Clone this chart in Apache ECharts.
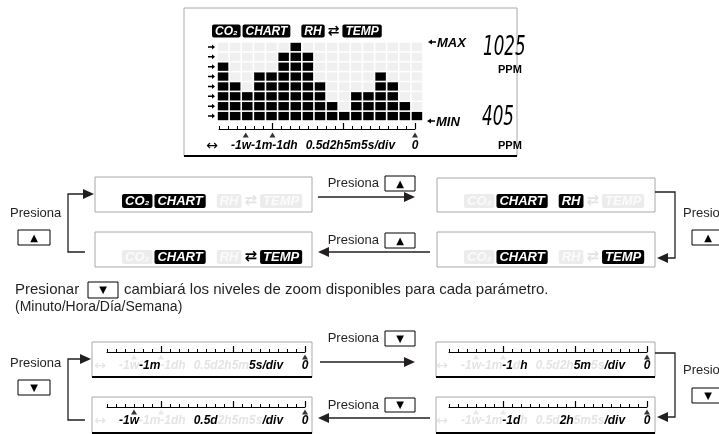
<!DOCTYPE html>
<html><head><meta charset="utf-8">
<script src="https://cdn.jsdelivr.net/npm/echarts@6/dist/echarts.min.js"></script>
<style>html,body{margin:0;padding:0;background:#fff}#c{width:719px;height:434px}</style>
</head><body><div id="c"></div>
<script>
// ---------- data ----------
const barCols = ['c1','c2','c3','c4','c5','c6','c7','c8','c9','c10','c11','c12','c13','c14','c15','c16','c17'];
const barLevels = [6,4,3,5,5,7,8,7,4,2,1,3,3,5,4,2,1];
const gridRows = 8;
const rulerDivisions = 22;
const rulerMajor = [6,14,22];
const rulerMarks = [3,6,22];
const modeLabels = ['CO₂','CHART','RH','⇄','TEMP'];
const modeLcd  = [1,1,1,1,1];
const modeCo2  = [1,1,0,0,0];
const modeRh   = [0,1,1,0,0];
const modeTemp = [0,1,0,0,1];
const modeBoth = [0,1,0,1,1];
const scaleTokens = ['-1w','-1m','-1','d','h','0.5d','2h','5m','5s','/div'];
const litLcd    = [1,1,1,1,1,1,1,1,1,1];
const litMinute = [0,1,0,0,0,0,0,0,1,1];
const litHour   = [0,0,1,0,1,0,0,1,0,1];
const litDay    = [0,0,1,1,0,0,1,0,0,1];
const litWeek   = [1,0,0,0,0,1,0,0,0,1];
const markLcd = [1,1,1], markMinute = [0,0,1], markHour = [0,0,1], markDay = [0,0,1], markWeek = [1,0,1];
const maxReading = '1025', minReading = '405', unitText = 'PPM';
const pressText = 'Presiona';
const noteText = ['Presionar', 'cambiará los niveles de zoom disponibles para cada parámetro.', '(Minuto/Hora/Día/Semana)'];

// ---------- styling helpers ----------
const FONT = 'Liberation Sans, Arial, DejaVu Sans, sans-serif';
const INK = '#231f20';
const BOXC = '#a8a8a8';
const FADE_BG = '#ececec';
const FADE_TX = '#e4e4e4';
const G = [];

function rect(x,y,w,h,stroke,lw,fill){G.push({type:'rect',silent:true,shape:{x,y,width:w,height:h},style:{fill:fill||'transparent',stroke,lineWidth:lw||1}});}
function line(pts,color,lw){G.push({type:'polyline',silent:true,shape:{points:pts},style:{stroke:color||INK,lineWidth:lw||1.3,fill:null}});}
function head(tx,y,dir){G.push({type:'polygon',silent:true,shape:{points:[[tx,y],[tx-dir*11,y-5],[tx-dir*11,y+5]]},style:{fill:INK}});}
function txt(x,y,s,o){G.push({type:'text',silent:true,x,y,style:Object.assign({text:s,fontFamily:FONT,fontSize:13,fill:INK,verticalAlign:'middle',align:'left'},o||{})});}
function button(x,y,w,h,glyph){rect(x,y,w,h,'#000',1,'#fff');txt(x+w/2,y+h/2+0.5,glyph,{align:'center',fontSize:10,fontFamily:'DejaVu Sans, sans-serif',fill:'#000'});}
function box(x,y,w,h,thick){rect(x,y,w,h,BOXC,1);if(thick)line([[x,y+h],[x+w,y+h]],'#000',2.2);}

function modeRow(x,y,lit,fs,gapMid){
  const t = (i)=> (i===3 ? (lit[i]?'a':'af') : (lit[i]?'k':'f'));
  const s = `{${t(0)}|${modeLabels[0]}}{g1| }{${t(1)}|${modeLabels[1]}}{g2| }{${t(2)}|${modeLabels[2]}}{g3| }{${t(3)}|${modeLabels[3]}}{g3| }{${t(4)}|${modeLabels[4]}}`;
  const base = {fontFamily:FONT,fontSize:fs,fontWeight:'bold',fontStyle:'italic',padding:[1,3,0,3],borderRadius:2,lineHeight:fs+2};
  G.push({type:'text',silent:true,x,y,style:{text:s,verticalAlign:'middle',rich:{
    k:Object.assign({},base,{fill:'#fff',backgroundColor:'#000'}),
    f:Object.assign({},base,{fill:'#fbfbfb',backgroundColor:FADE_BG}),
    a:{fontFamily:'DejaVu Sans, sans-serif',fontWeight:'bold',fontSize:fs+2,fill:'#000'},
    af:{fontFamily:'DejaVu Sans, sans-serif',fontWeight:'bold',fontSize:fs+2,fill:FADE_TX},
    g1:{width:2,fontSize:fs},g2:{width:gapMid,fontSize:fs},g3:{width:3,fontSize:fs}
  }}});
}

function scaleRow(r){
  const y = r.y + r.lab;
  txt(r.R-7, y, '↔', {align:'center',fontSize:14,fontFamily:'DejaVu Sans, sans-serif',fill:r.arrowLit?'#000':FADE_TX});
  let s = '';
  scaleTokens.forEach((tk,i)=>{ s += `{${r.lit[i]?'b':'q'}|${tk}}`; if(tk==='h') s += '{sp| }'; });
  const base = {fontFamily:FONT,fontSize:12,fontWeight:'bold',fontStyle:'italic'};
  G.push({type:'text',silent:true,x:r.R+12,y,style:{text:s,verticalAlign:'middle',rich:{
    b:Object.assign({},base,{fill:'#000'}), q:Object.assign({},base,{fill:FADE_TX}), sp:{width:8,fontSize:12}
  }}});
  txt(r.R+r.W, y, '0', {align:'center',fontSize:12,fontWeight:'bold',fontStyle:'italic',fill:'#000'});
}

// ---------- LCD ----------
box(184,8,333,148,true);
modeRow(212,31,modeLcd,12,11);
G.push({type:'polygon',silent:true,shape:{points:[[428,42],[432,39.5],[432,41.3],[436,41.3],[436,42.7],[432,42.7],[432,44.5]]},style:{fill:'#000'}});
txt(437,43,'MAX',{fontSize:13,fontWeight:'bold',fontStyle:'italic',fill:'#000'});
G.push({type:'polygon',silent:true,shape:{points:[[427,121],[431,118.5],[431,120.3],[435,120.3],[435,121.7],[431,121.7],[431,123.5]]},style:{fill:'#000'}});
txt(436,122,'MIN',{fontSize:13,fontWeight:'bold',fontStyle:'italic',fill:'#000'});
G.push({type:'text',silent:true,x:483,y:48,scaleX:0.62,style:{text:maxReading,fontFamily:'DejaVu Sans, sans-serif',fontSize:27,fontStyle:'italic',fill:'#000',verticalAlign:'middle'}});
txt(498,70,unitText,{fontSize:11,fontWeight:'bold',fill:'#000'});
G.push({type:'text',silent:true,x:482,y:118,scaleX:0.62,style:{text:minReading,fontFamily:'DejaVu Sans, sans-serif',fontSize:27,fontStyle:'italic',fill:'#000',verticalAlign:'middle'}});
txt(498,146,unitText,{fontSize:11,fontWeight:'bold',fill:'#000'});

// ---------- mode boxes ----------
box(95,177,217,35); modeRow(122,201,modeCo2,13,11);
box(95,232,217,35); modeRow(122,257,modeBoth,13,11);
box(437,178,218,34); modeRow(464,201,modeRh,13,11);
box(437,232,218,35); modeRow(464,257,modeTemp,13,11);
// left bracket
line([[85,252],[68,252],[68,194],[84,194]]); head(94,194,1);
txt(10,213,pressText); button(18,230,32,15,'▲');
// middle arrows
line([[318,197],[405,197]]); head(415,197,1);
txt(379,183,pressText,{align:'right'}); button(385,176,30,15,'▲');
line([[430,252],[328,252]]); head(318,252,-1);
txt(379,240,pressText,{align:'right'}); button(385,233,30,15,'▲');
// right bracket
line([[655,192],[675,192],[675,258],[667,258]]); head(657,258,-1);
txt(683,213,pressText); button(692,230,32,15,'▲');

// ---------- note ----------
txt(15,290,noteText[0],{fontSize:15});
button(88,282,30,16,'▼');
txt(124,290,noteText[1],{fontSize:15});
txt(15,307,noteText[2],{fontSize:14});

// ---------- zoom boxes ----------
box(92,342,220,35,true);
box(92,397,220,36,true);
box(436,342,219,35,true);
box(436,397,219,36,true);
line([[85,420],[68,420],[68,359],[81,359]]); head(91,359,1);
txt(10,363,pressText); button(18,380,32,15,'▼');
line([[320,362],[405,362]]); head(415,362,1);
txt(379,338,pressText,{align:'right'}); button(385,331,30,15,'▼');
line([[430,418],[328,418]]); head(318,418,-1);
txt(379,405,pressText,{align:'right'}); button(385,398,30,14,'▼');
line([[655,353],[675,353],[675,417],[667,417]]); head(657,417,-1);
txt(683,370,pressText); button(692,388,32,15,'▼');

const rulers = [
  {R:219,W:196,y:129,lab:17,tri:6,lit:litLcd,mk:markLcd,arrowLit:1},
  {R:107,W:198,y:352,lab:14,tri:5,lit:litMinute,mk:markMinute,arrowLit:0},
  {R:107,W:198,y:407,lab:14,tri:5,lit:litWeek,mk:markWeek,arrowLit:0},
  {R:449,W:198,y:352,lab:14,tri:5,lit:litHour,mk:markHour,arrowLit:0},
  {R:449,W:198,y:407,lab:14,tri:5,lit:litDay,mk:markDay,arrowLit:0}
];
rulers.forEach(scaleRow);

// ---------- chart series ----------
function renderCells(params, api){
  const i = api.value(0), v = api.value(1);
  const sz = api.size([1,1]);
  const ch = [];
  for(let r=0;r<gridRows;r++){
    const p = api.coord([i, r+1]);
    const x0 = p[0]-sz[0]/2;
    ch.push({type:'rect',shape:{x:x0+0.8,y:p[1]+0.8,width:sz[0]-1.6,height:sz[1]-1.6},style:{fill:r<v?'#000':'#f0f0f0'}});
    if(i===0){
      const cy = p[1]+sz[1]/2, tx = x0-2;
      ch.push({type:'polygon',shape:{points:[[tx,cy],[tx-3,cy-2.5],[tx-3,cy-0.8],[tx-7,cy-0.8],[tx-7,cy+0.8],[tx-3,cy+0.8],[tx-3,cy+2.5]]},style:{fill:'#000'}});
    }
  }
  return {type:'group',children:ch};
}

const rulerCats = Array.from({length:rulerDivisions+1},(_,i)=>String(i));
const grids=[{left:217,top:42,width:206,height:79,outerBoundsMode:'none'}];
const xAxes=[{type:'category',gridIndex:0,data:barCols,show:false}];
const yAxes=[{type:'value',gridIndex:0,min:0,max:gridRows,show:false}];
const series=[{type:'custom',xAxisIndex:0,yAxisIndex:0,silent:true,data:barLevels.map((v,i)=>[i,v]),renderItem:renderCells}];
rulers.forEach((r,k)=>{
  const gi=k+1;
  grids.push({left:r.R,top:r.y-8,width:r.W,height:8,outerBoundsMode:'none'});
  xAxes.push({type:'category',gridIndex:gi,data:rulerCats,boundaryGap:false,position:'bottom',
    axisLine:{show:true,onZero:false,lineStyle:{color:'#000',width:1}},
    axisTick:{show:true,inside:true,length:3,interval:0,lineStyle:{color:'#000',width:1}},
    axisLabel:{show:false},splitLine:{show:false}});
  xAxes.push({type:'category',gridIndex:gi,data:rulerCats,boundaryGap:false,position:'bottom',
    axisLine:{show:false,onZero:false},
    axisTick:{show:true,inside:true,length:6,interval:(idx)=>rulerMajor.includes(idx),lineStyle:{color:'#000',width:1.2}},
    axisLabel:{show:false},splitLine:{show:false}});
  yAxes.push({type:'value',gridIndex:gi,min:0,max:1,show:false});
  series.push({type:'scatter',xAxisIndex:2*k+1,yAxisIndex:gi,clip:false,silent:true,symbol:'triangle',symbolSize:[6,5],
    data:rulerMarks.map((m,j)=>({value:[m,-r.tri/8],itemStyle:{color:r.mk[j]?'#000':'#e2e2e2'}}))});
});

const chart = echarts.init(document.getElementById('c'));
chart.setOption({animation:false,backgroundColor:'#fff',grid:grids,xAxis:xAxes,yAxis:yAxes,series,graphic:{elements:G}});
</script></body></html>
